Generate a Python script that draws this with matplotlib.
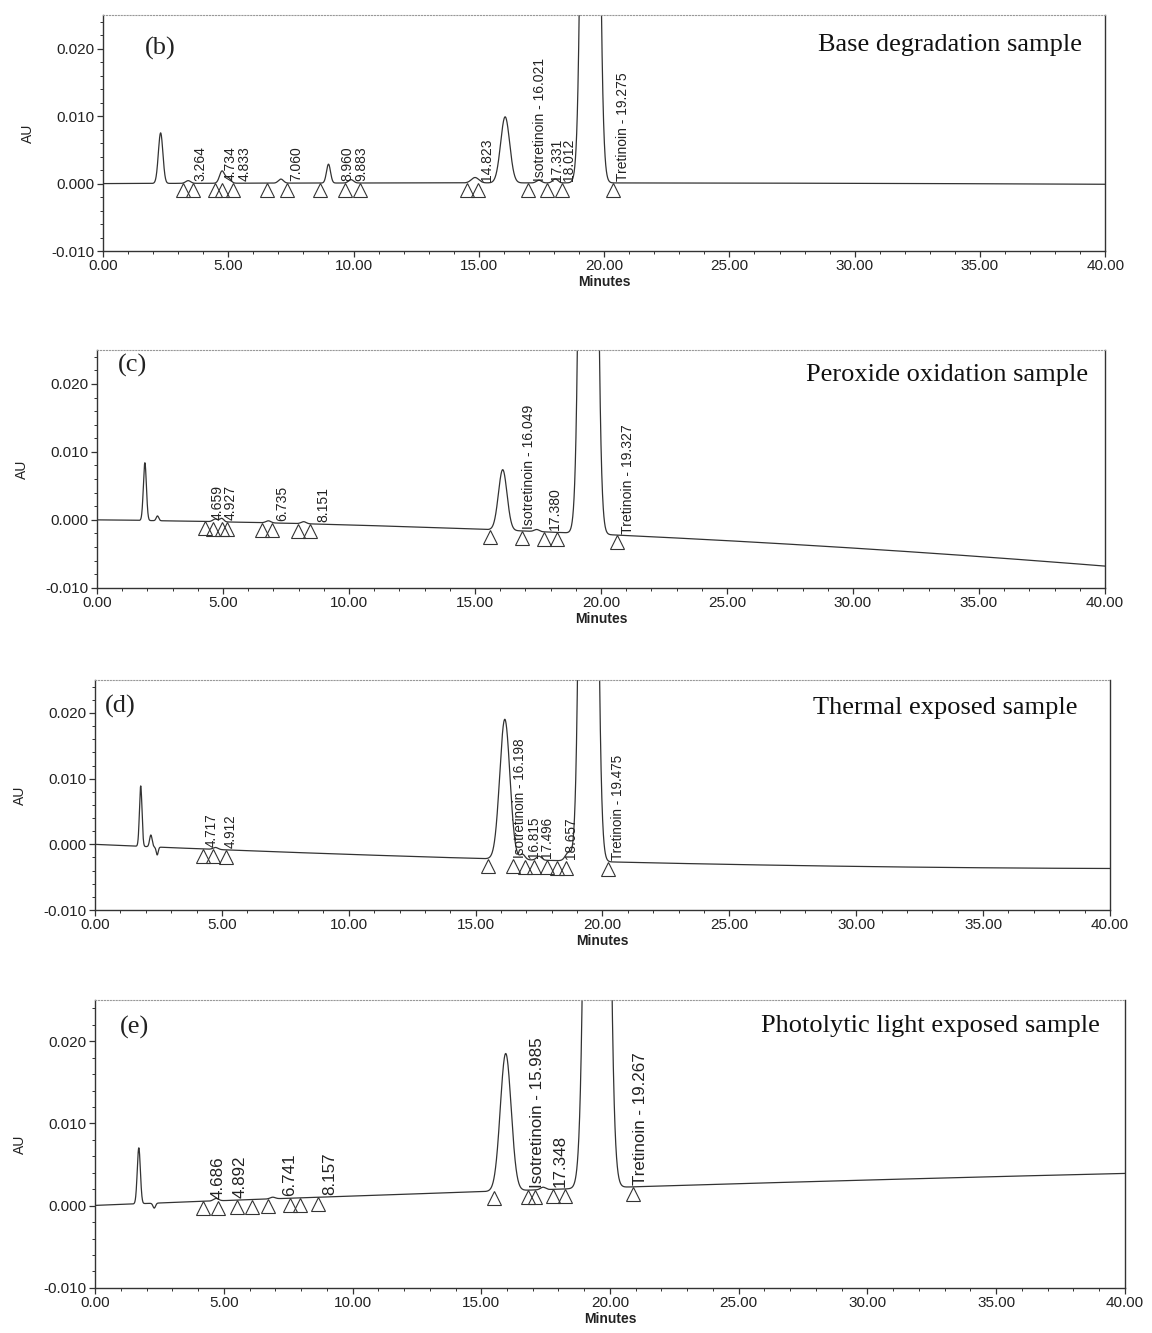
import numpy as np
import matplotlib.pyplot as plt
from matplotlib.transforms import offset_copy
from matplotlib.ticker import MultipleLocator, FormatStrFormatter

# (b) base degradation sample
b_base_t = [0, 20, 40]
b_base_y = [0.0, 0.0001, -0.0001]
b_peak_t = [2.3, 3.4, 4.75, 5.0, 7.1, 9.0, 9.9, 14.85, 16.05, 17.4, 18.05, 19.45]
b_peak_h = [0.0075, 0.0004, 0.0018, 0.0008, 0.0006, 0.0028, 0.0005, 0.0008, 0.0098, 0.0004, 0.0006, 0.30]
b_peak_w = [0.09, 0.1, 0.1, 0.1, 0.1, 0.08, 0.1, 0.15, 0.18, 0.1, 0.1, 0.2]
b_labels = ["3.264", "4.734", "4.833", "7.060", "8.960", "9.883", "14.823",
            "Isotretinoin - 16.021", "17.331", "18.012", "Tretinoin - 19.275"]
b_label_t = [3.87, 5.1, 5.65, 7.7, 9.75, 10.3, 15.33, 17.45, 18.1, 18.6, 20.76]
b_marks = [3.19, 3.59, 4.47, 4.75, 5.19, 6.55, 7.35, 8.66, 9.66, 10.26,
           14.53, 14.97, 16.97, 17.72, 18.32, 20.36]

# (c) peroxide oxidation sample
c_base_t = [0, 16, 40]
c_base_y = [0.0, -0.0015, -0.0068]
c_peak_t = [1.9, 2.4, 4.7, 4.95, 6.8, 8.2, 16.1, 17.45, 19.5]
c_peak_h = [0.0085, 0.0007, 0.0004, 0.0005, 0.0003, 0.0003, 0.0089, 0.0003, 0.30]
c_peak_w = [0.06, 0.05, 0.1, 0.08, 0.1, 0.1, 0.17, 0.1, 0.2]
c_labels = ["4.659", "4.927", "6.735", "8.151", "Isotretinoin - 16.049",
            "17.380", "Tretinoin - 19.327"]
c_label_t = [4.8, 5.3, 7.34, 8.97, 17.14, 18.17, 21.07]
c_marks = [4.29, 4.60, 4.96, 5.16, 6.55, 6.94, 7.98, 8.45,
           15.6, 16.87, 17.74, 18.25, 20.63]

# (d) thermal exposed sample
d_base_t = [0, 5, 16, 30, 40]
d_base_y = [0.0, -0.0008, -0.0023, -0.0033, -0.0037]
d_peak_t = [1.8, 2.2, 2.45, 4.75, 16.15, 16.85, 17.5, 18.65, 19.45]
d_peak_h = [0.0092, 0.0018, -0.0012, 0.0003, 0.0213, 0.0008, 0.0006, 0.0012, 0.30]
d_peak_w = [0.05, 0.05, 0.04, 0.1, 0.2, 0.1, 0.1, 0.12, 0.2]
d_labels = ["4.717", "4.912", "Isotretinoin - 16.198", "16.815", "17.496",
            "18.657", "Tretinoin - 19.475"]
d_label_t = [4.6, 5.35, 16.75, 17.3, 17.8, 18.75, 20.6]
d_marks = [4.25, 4.65, 5.16, 15.47, 16.46, 16.93, 17.3, 17.8, 18.2, 18.58, 20.2]

# (e) photolytic light exposed sample
e_base_t = [0, 3, 8, 16, 21, 40]
e_base_y = [0.0, 0.0005, 0.0009, 0.0016, 0.0025, 0.0039]
e_peak_t = [1.7, 2.3, 4.7, 6.9, 15.95, 17.4, 19.5]
e_peak_h = [0.0068, -0.0006, 0.0003, 0.0002, 0.0167, 0.0003, 0.35]
e_peak_w = [0.06, 0.05, 0.1, 0.1, 0.21, 0.1, 0.25]
e_labels = ["4.686", "4.892", "6.741", "8.157", "Isotretinoin - 15.985",
            "17.348", "Tretinoin - 19.267"]
e_label_t = [4.78, 5.63, 7.57, 9.13, 17.2, 18.06, 21.17]
e_marks = [4.2, 4.78, 5.5, 6.1, 6.7, 7.57, 7.96, 8.66,
           15.5, 16.8, 17.1, 17.8, 18.25, 20.9]

panels = [
    ("(b)", "Base degradation sample", [0.0894, 0.8117, 0.870, 0.177],
     (0.977, 0.873), (0.042, 0.86),
     b_base_t, b_base_y, b_peak_t, b_peak_h, b_peak_w, b_labels, b_label_t, b_marks),
    ("(c)", "Peroxide oxidation sample", [0.0842, 0.559, 0.875, 0.1785],
     (0.983, 0.895), (0.021, 0.933),
     c_base_t, c_base_y, c_peak_t, c_peak_h, c_peak_w, c_labels, c_label_t, c_marks),
    ("(d)", "Thermal exposed sample", [0.0825, 0.3173, 0.881, 0.1725],
     (0.968, 0.878), (0.010, 0.887),
     d_base_t, d_base_y, d_peak_t, d_peak_h, d_peak_w, d_labels, d_label_t, d_marks),
    ("(e)", "Photolytic light exposed sample", [0.0825, 0.0338, 0.894, 0.216],
     (0.976, 0.91), (0.024, 0.903),
     e_base_t, e_base_y, e_peak_t, e_peak_h, e_peak_w, e_labels, e_label_t, e_marks),
]

sans = ["Liberation Sans", "DejaVu Sans"]
serif = ["Liberation Serif", "DejaVu Serif"]
ink = "#333333"

fig = plt.figure(figsize=(11.52, 13.33), dpi=100)
t = np.linspace(0, 40, 8001)

for tag, title, rect, tpos, gpos, bt, by, pt, ph, pw, labs, lt, marks in panels:
    ax = fig.add_axes(rect)
    scale = rect[3] / 0.177
    base = np.poly1d(np.polyfit(bt, by, 2))
    y = base(t)
    for t0, h, w in zip(pt, ph, pw):
        y = y + h * np.exp(-0.5 * ((t - t0) / w) ** 2)
    ax.plot(t, y, color=ink, lw=0.9)

    tri = offset_copy(ax.transData, fig=fig, y=-5, units="points")
    ax.plot(marks, base(np.array(marks)), ls="none", marker="^", ms=10,
            mfc="none", mec=ink, mew=0.8, transform=tri, clip_on=False)

    lab = offset_copy(ax.transData, fig=fig, y=1.5, units="points")
    for s, x in zip(labs, lt):
        ax.text(x, base(x), s, rotation=90, ha="center", va="bottom",
                fontsize=10 * scale, family=sans, color="#222222", transform=lab)

    ax.text(tpos[0], tpos[1], title, transform=ax.transAxes, ha="right", va="center",
            fontsize=19, family=serif, color="#111111")
    ax.text(gpos[0], gpos[1], tag, transform=ax.transAxes, ha="left", va="center",
            fontsize=19, family=serif, color="#222222")

    ax.set_xlim(0, 40)
    ax.set_ylim(-0.010, 0.025)
    ax.xaxis.set_major_locator(MultipleLocator(5))
    ax.xaxis.set_minor_locator(MultipleLocator(1))
    ax.yaxis.set_major_locator(MultipleLocator(0.01))
    ax.yaxis.set_minor_locator(MultipleLocator(0.002))
    ax.xaxis.set_major_formatter(FormatStrFormatter("%.2f"))
    ax.yaxis.set_major_formatter(FormatStrFormatter("%.3f"))
    ax.tick_params(which="major", length=4, width=0.9, color=ink, pad=2)
    ax.tick_params(which="minor", length=2.5, width=0.7, color=ink)
    for lbl in ax.get_xticklabels() + ax.get_yticklabels():
        lbl.set_family(sans)
        lbl.set_fontsize(11)
        lbl.set_color("#222222")
    for side in ["left", "bottom", "right"]:
        ax.spines[side].set_color(ink)
        ax.spines[side].set_linewidth(1.0)
    ax.spines["top"].set_color("#999999")
    ax.spines["top"].set_linestyle(":")
    ax.set_ylabel("AU", family=sans, fontsize=10, color="#222222", labelpad=12)
    ax.set_xlabel("Minutes", family=sans, fontsize=10, color="#222222", labelpad=1,
                  fontweight="bold")

fig.savefig("out.png", dpi=100)
